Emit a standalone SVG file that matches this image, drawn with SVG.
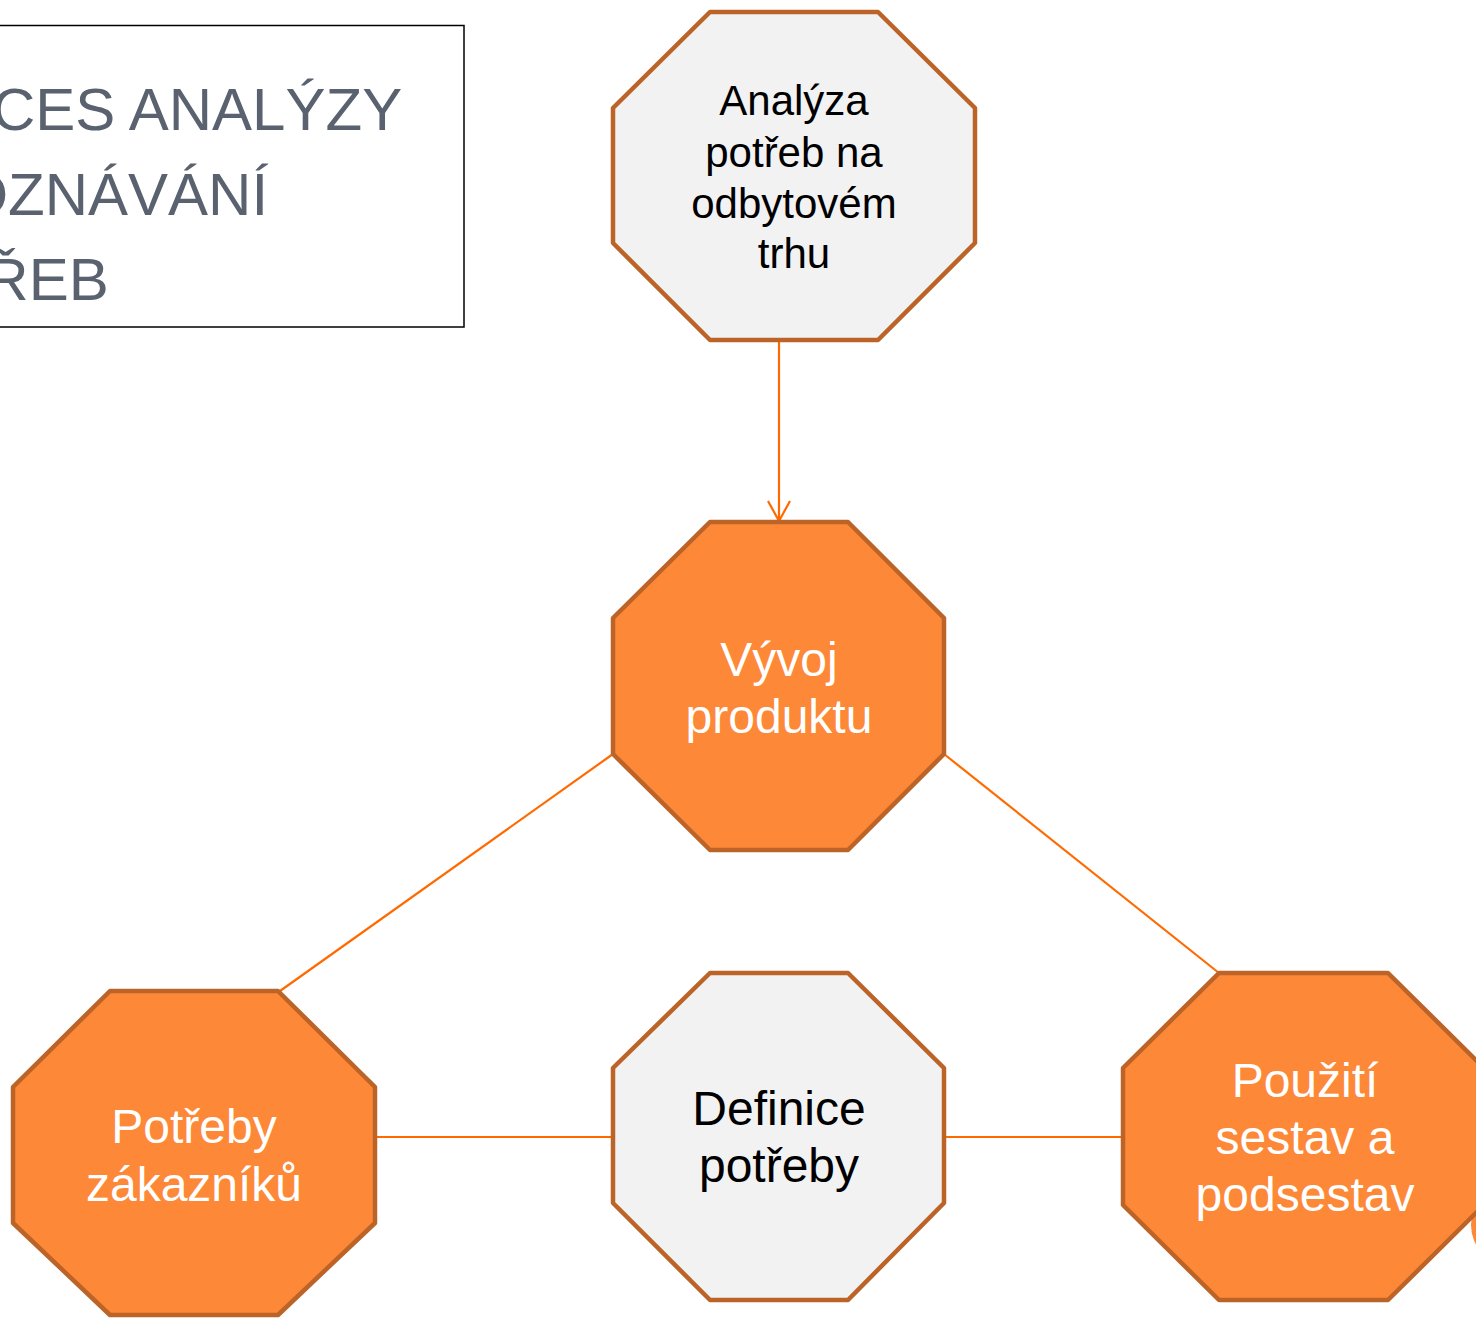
<svg xmlns="http://www.w3.org/2000/svg" width="1476" height="1318" viewBox="0 0 1476 1318">
<defs>
<style>
.oct{stroke:#BC6328;stroke-width:4.5;stroke-linejoin:round}
.or{fill:#FD8838}
.lt{fill:#F2F2F2}
.conn{stroke:#FF6A00;stroke-width:2.2;fill:none}
.t{font-family:"Liberation Sans",Arial,sans-serif;text-anchor:middle}
.w{fill:#FFFFFF;font-size:48px}
.b{fill:#000000}
.title{font-family:"Liberation Sans",Arial,sans-serif;font-size:60px;fill:#5A6270}
</style>
<marker id="arr" viewBox="0 0 24 24" refX="22" refY="12" markerWidth="24" markerHeight="24" markerUnits="userSpaceOnUse" orient="auto">
<path d="M2,1 L22,12 L2,23" fill="none" stroke="#FF6A00" stroke-width="2.2"/>
</marker>
</defs>
<rect width="1476" height="1318" fill="#FFFFFF"/>

<g id="title">
<rect x="-20" y="25.5" width="484" height="301.5" fill="none" stroke="#000000" stroke-width="1.5"/>
<text class="title" x="-138" y="130">PROCES ANALÝZY</text>
<text class="title" x="-132" y="215">A POZNÁVÁNÍ</text>
<text class="title" x="-138" y="300">POTŘEB</text>
</g>

<g id="connectors">
<line class="conn" x1="779" y1="340" x2="779" y2="521" marker-end="url(#arr)"/>
<line class="conn" x1="613" y1="754" x2="280" y2="991"/>
<line class="conn" x1="944" y1="754" x2="1219" y2="973"/>
<line class="conn" x1="375" y1="1137" x2="613" y2="1137"/>
<line class="conn" x1="944" y1="1137" x2="1123" y2="1137"/>
</g>

<g id="node-analyza">
<polygon class="oct lt" points="710,12 878,12 975,108 975,243 878,340 710,340 613,243 613,108"/>
<text class="t b" style="font-size:42px" x="794" y="115">Analýza</text>
<text class="t b" style="font-size:42px" x="794" y="167">potřeb na</text>
<text class="t b" style="font-size:42px" x="794" y="218">odbytovém</text>
<text class="t b" style="font-size:42px" x="794" y="268">trhu</text>
</g>

<g id="node-vyvoj">
<polygon class="oct or" points="710,522 848,522 944,618 944,754 848,850 710,850 613,754 613,618"/>
<text class="t w" x="779" y="676">Vývoj</text>
<text class="t w" x="779" y="733">produktu</text>
</g>

<g id="node-potreby">
<polygon class="oct or" points="110,991 278,991 375,1087 375,1223 278,1315 110,1315 13,1223 13,1087"/>
<text class="t w" x="194" y="1143">Potřeby</text>
<text class="t w" x="194" y="1201">zákazníků</text>
</g>

<g id="node-definice">
<polygon class="oct lt" points="710,973 848,973 944,1068 944,1203 848,1300 710,1300 613,1203 613,1068"/>
<text class="t b" style="font-size:48px" x="779" y="1125">Definice</text>
<text class="t b" style="font-size:48px" x="779" y="1182">potřeby</text>
</g>

<g id="node-partial">
<ellipse cx="1510" cy="1225" rx="39" ry="40" fill="#FD8838"/>
</g>

<g id="node-pouziti">
<polygon class="oct or" points="1219,973 1388,973 1484,1068 1484,1205 1388,1300 1219,1300 1123,1205 1123,1068"/>
<text class="t w" x="1305" y="1097">Použití</text>
<text class="t w" x="1305" y="1154">sestav a</text>
<text class="t w" x="1305" y="1211">podsestav</text>
</g>
</svg>
